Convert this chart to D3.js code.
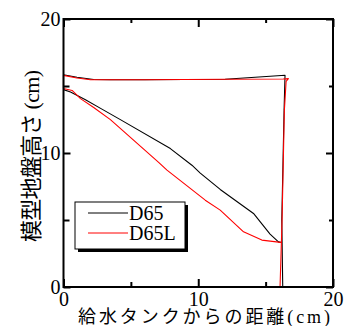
<!DOCTYPE html>
<html>
<head>
<meta charset="utf-8">
<script src="https://cdn.jsdelivr.net/npm/d3@7/dist/d3.min.js"></script>
<style>
  html, body { margin: 0; padding: 0; background: #fff; }
  svg { display: block; }
  text { font-family: "Liberation Serif", "Times New Roman", "Noto Sans CJK JP", serif; fill: #000; }
</style>
</head>
<body>
<svg id="chart" width="349" height="326"></svg>
<script>
// Ground surface profiles traced along the wall, the crest, the upstream face and the slope
const d65X  = [16.27, 16.20, 16.37, 16.44, 12.0, 6.0, 3.48, 2.24, 1.0, 0,
               0, 0.52, 1.63, 2.72, 4.22, 7.93, 9.53, 10.15, 11.63, 14.1, 15.33, 15.95, 16.2];
const d65Y  = [0, 5.0, 13.2, 15.8, 15.5, 15.47, 15.47, 15.49, 15.65, 15.84,
               14.73, 14.55, 13.98, 13.35, 12.49, 10.33, 9.09, 8.5, 7.28, 5.49, 3.95, 3.37, 3.31];

const d65lX = [16.07, 16.22, 16.39, 16.52, 16.69, 16.3, 12.0, 6.0, 2.0, 1.0, 0,
               0, 0.64, 1.26, 2.24, 3.48, 7.06, 7.68, 10.52, 11.63, 13.36, 14.72, 15.95, 16.2];
const d65lY = [0, 5.0, 13.18, 15.34, 15.55, 15.52, 15.5, 15.47, 15.47, 15.6, 15.79,
               14.82, 14.67, 14.06, 13.4, 12.49, 9.3, 8.72, 6.48, 5.74, 4.12, 3.5, 3.35, 3.31];

const seriesNames  = ["D65", "D65L"];
const seriesColors = ["#000000", "#ff0000"];

const majorTicks = [0, 10, 20];
const minorTicks = [5, 15];

const xTitle = "給水タンクからの距離(cm)";
const yTitle = "模型地盤高さ (cm)";

const svg = d3.select("#chart");
const plotLeft = 63.5, plotRight = 333, plotTop = 19, plotBottom = 287;

const x = d3.scaleLinear().domain([0, 20]).range([plotLeft, plotRight]);
const y = d3.scaleLinear().domain([0, 20]).range([plotBottom, plotTop]);

const series = [
  { name: seriesNames[0], color: seriesColors[0], pts: d65X.map((v, i) => [v, d65Y[i]]), w: 1.1 },
  { name: seriesNames[1], color: seriesColors[1], pts: d65lX.map((v, i) => [v, d65lY[i]]), w: 1.1 }
];

const line = d3.line().x(d => x(d[0])).y(d => y(d[1]));

svg.append("g").selectAll("path").data(series).join("path")
  .attr("d", d => line(d.pts))
  .attr("fill", "none")
  .attr("stroke", d => d.color)
  .attr("stroke-width", d => d.w)
  .attr("stroke-linejoin", "round");

// Axes: inward ticks on all four sides, labels on bottom and left
function styleAxis(g) {
  g.select(".domain").remove();
  g.selectAll(".tick line").attr("stroke", "#000").attr("stroke-width", 2);
  g.selectAll(".tick text").style("font-size", "20px").attr("fill", "#000");
}

svg.append("g").attr("transform", `translate(0,${plotBottom})`)
  .call(d3.axisBottom(x).tickValues(majorTicks).tickSizeInner(-8).tickSizeOuter(0).tickPadding(5).tickFormat(d3.format("d")))
  .call(styleAxis);
svg.append("g").attr("transform", `translate(0,${plotBottom})`)
  .call(d3.axisBottom(x).tickValues(minorTicks).tickSizeInner(-5).tickSizeOuter(0).tickFormat(""))
  .call(styleAxis);
svg.append("g").attr("transform", `translate(0,${plotTop})`)
  .call(d3.axisTop(x).tickValues(majorTicks).tickSizeInner(-8).tickSizeOuter(0).tickFormat(""))
  .call(styleAxis);
svg.append("g").attr("transform", `translate(0,${plotTop})`)
  .call(d3.axisTop(x).tickValues(minorTicks).tickSizeInner(-4).tickSizeOuter(0).tickFormat(""))
  .call(styleAxis);

svg.append("g").attr("transform", `translate(${plotLeft},0)`)
  .call(d3.axisLeft(y).tickValues(majorTicks).tickSizeInner(-7).tickSizeOuter(0).tickPadding(3).tickFormat(d3.format("d")))
  .call(styleAxis);
svg.append("g").attr("transform", `translate(${plotLeft},0)`)
  .call(d3.axisLeft(y).tickValues(minorTicks).tickSizeInner(-6).tickSizeOuter(0).tickFormat(""))
  .call(styleAxis);
svg.append("g").attr("transform", `translate(${plotRight},0)`)
  .call(d3.axisRight(y).tickValues(majorTicks).tickSizeInner(-7).tickSizeOuter(0).tickFormat(""))
  .call(styleAxis);
svg.append("g").attr("transform", `translate(${plotRight},0)`)
  .call(d3.axisRight(y).tickValues(minorTicks).tickSizeInner(-4).tickSizeOuter(0).tickFormat(""))
  .call(styleAxis);

// Plot frame
svg.append("rect")
  .attr("x", plotLeft).attr("y", plotTop)
  .attr("width", plotRight - plotLeft).attr("height", plotBottom - plotTop)
  .attr("fill", "none").attr("stroke", "#000").attr("stroke-width", 2);

// Axis titles
svg.append("text")
  .attr("x", 204).attr("y", 323)
  .attr("text-anchor", "middle")
  .attr("textLength", 252)
  .style("font-size", "18px")
  .text(xTitle);

svg.append("text")
  .attr("transform", "translate(31,156) rotate(-90)")
  .attr("text-anchor", "middle")
  .attr("dominant-baseline", "central")
  .attr("textLength", 172)
  .style("font-size", "22px")
  .text(yTitle);

// Legend with drop shadow
const lg = svg.append("g").attr("transform", "translate(75,202)");
lg.append("rect").attr("x", 3).attr("y", 3).attr("width", 110).attr("height", 47).attr("fill", "#000");
lg.append("rect").attr("x", 0).attr("y", 0).attr("width", 110).attr("height", 47)
  .attr("fill", "#fff").attr("stroke", "#000").attr("stroke-width", 1);
const items = lg.selectAll("g.item").data(series).join("g")
  .attr("class", "item")
  .attr("transform", (d, i) => `translate(0,${11 + i * 20})`);
items.append("line").attr("x1", 13).attr("x2", 53).attr("y1", 0).attr("y2", 0)
  .attr("stroke", d => d.color).attr("stroke-width", 1);
items.append("text").attr("x", 54).attr("y", 7).style("font-size", "20px").text(d => d.name);
</script>
</body>
</html>
